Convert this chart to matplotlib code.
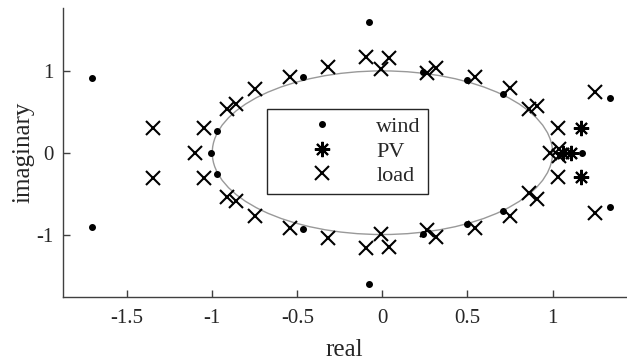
import matplotlib
matplotlib.use("Agg")
import matplotlib.pyplot as plt
from matplotlib.patches import Circle

plt.rcParams['font.family'] = ['Liberation Serif', 'DejaVu Serif']

# eigenvalue positions
wind_re = [-1.707, -1.707, -1.005, -0.97, -0.97, -0.467, -0.467, -0.08, -0.08,
           0.24, 0.24, 0.50, 0.50, 0.706, 0.706, 1.175, 1.335, 1.335]
wind_im = [0.91, -0.91, 0.0, 0.265, -0.265, 0.929, -0.927, 1.60, -1.60,
           0.99, -0.99, 0.889, -0.866, 0.714, -0.71, 0.0, 0.665, -0.665]

pv_re = [1.06, 1.107, 1.165, 1.165]
pv_im = [0.0, 0.0, 0.30, -0.30]

load_re = [-1.351, -1.351, -1.050, -1.050, -1.103, -0.911, -0.911, -0.863, -0.863,
           -0.747, -0.747, -0.545, -0.545, -0.321, -0.321, -0.096, -0.096,
           0.037, 0.037, -0.006, -0.006, 0.26, 0.26, 0.313, 0.313,
           0.542, 0.542, 0.747, 0.747, 0.862, 0.862, 0.91, 0.91,
           1.034, 1.034, 1.247, 1.247, 0.985, 1.04, 1.04]
load_im = [0.306, -0.306, 0.306, -0.306, 0.0, 0.54, -0.54, 0.59, -0.59,
           0.775, -0.772, 0.927, -0.925, 1.045, -1.047, 1.17, -1.169,
           1.152, -1.149, 1.018, -0.995, 0.975, -0.95, 1.037, -1.03,
           0.92, -0.925, 0.787, -0.775, 0.53, -0.49, 0.577, -0.566,
           0.302, -0.295, 0.746, -0.741, 0.0, 0.045, -0.045]

x_ticks = [-1.5, -1, -0.5, 0, 0.5, 1]
x_ticklabels = ['-1.5', '-1', '-0.5', '0', '0.5', '1']
y_ticks = [-1, 0, 1]
y_ticklabels = ['-1', '0', '1']

fig = plt.figure(figsize=(6.27, 3.62), dpi=100)
ax = fig.add_axes([0.1005, 0.1804, 0.8975, 0.7966])

ax.add_patch(Circle((0, 0), 1, fill=False, edgecolor='#999999', linewidth=1.0, zorder=1))

ax.plot(wind_re, wind_im, 'o', color='black', markersize=4, linestyle='none', label='wind', zorder=3)
ax.plot(pv_re, pv_im, marker=(8, 2, 0), color='black', markersize=11, markeredgewidth=1.5,
        linestyle='none', label='PV', zorder=3)
ax.plot(load_re, load_im, 'x', color='black', markersize=9.5, markeredgewidth=1.5,
        linestyle='none', label='load', zorder=3)

ax.set_xlim(-1.877, 1.43)
ax.set_ylim(-1.76, 1.765)
ax.set_xticks(x_ticks)
ax.set_xticklabels(x_ticklabels)
ax.set_yticks(y_ticks)
ax.set_yticklabels(y_ticklabels)

for s in ['top', 'right']:
    ax.spines[s].set_visible(False)
for s in ['left', 'bottom']:
    ax.spines[s].set_color('0.25')
    ax.spines[s].set_linewidth(1.0)
ax.tick_params(direction='in', length=5, width=1.0, color='0.25',
               labelsize=15, labelcolor='0.15')
ax.tick_params(axis='x', pad=9)
ax.tick_params(axis='y', pad=7)

ax.set_xlabel('real', fontsize=18, color='0.15', labelpad=8)
ax.set_ylabel('imaginary', fontsize=18, color='0.15', labelpad=1)

leg = ax.legend(loc='upper left', bbox_to_anchor=(0.362, 0.650), borderaxespad=0,
                fontsize=16, handlelength=4.3, handletextpad=0.3, labelspacing=0.18,
                borderpad=0.33, fancybox=False, framealpha=1, edgecolor='0.15')
leg.get_frame().set_linewidth(1.0)
for t in leg.get_texts():
    t.set_color('0.15')

fig.savefig('out.png', dpi=100)
